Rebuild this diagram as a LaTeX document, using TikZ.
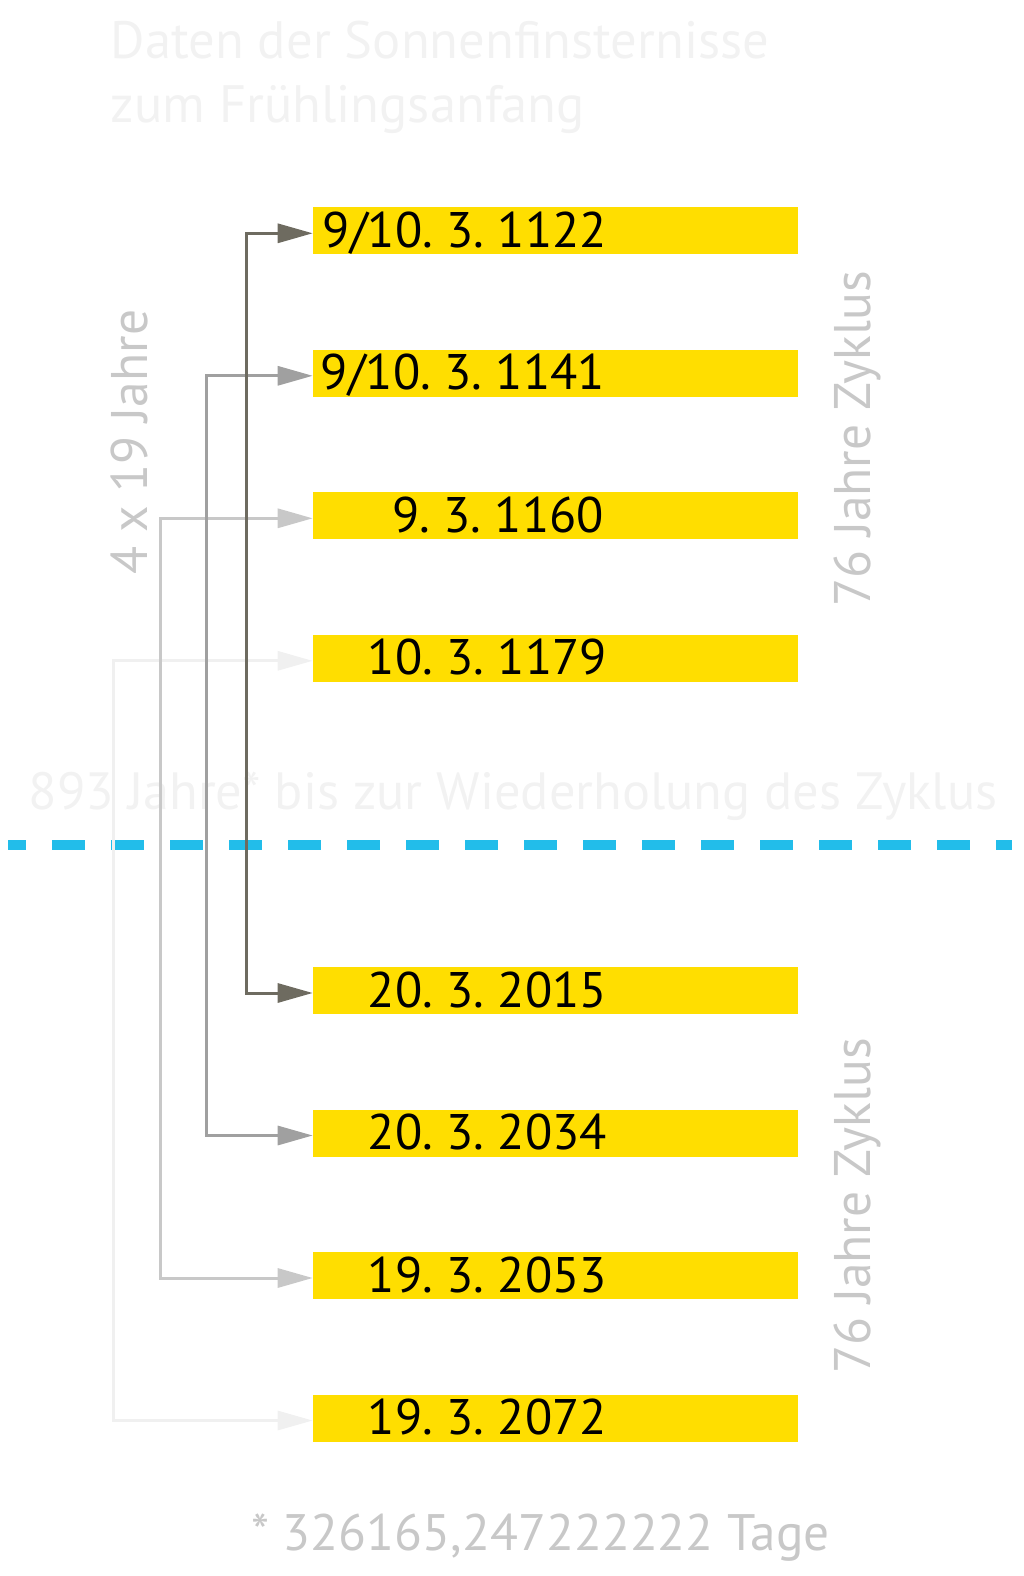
\documentclass[tikz,border=0pt]{standalone}
\usepackage{fontspec}
\setmainfont{PT Sans}
\usetikzlibrary{arrows.meta}
\definecolor{ylw}{RGB}{255,222,0}
\definecolor{ablue}{RGB}{34,189,234}
\definecolor{cA}{RGB}{110,107,96}
\definecolor{cB}{RGB}{160,160,160}
\definecolor{cC}{RGB}{200,200,200}
\definecolor{cD}{RGB}{240,240,240}
\definecolor{faint}{RGB}{242,242,242}
\definecolor{lgray}{RGB}{200,200,200}
\newcommand\datefont{\fontsize{50}{50}\selectfont}
\newcommand\datespace{\spaceskip=9pt\relax}
\begin{document}
\begin{tikzpicture}[x=1pt,y=-1pt,
  datebox/.style={fill=ylw, draw=none, minimum width=484.8pt, minimum height=47pt, inner sep=0pt, anchor=west},
  datetext/.style={anchor=base east, inner sep=0pt, text=black, font=\datefont, execute at begin node={\datespace}},
  bigtext/.style={inner sep=0pt, text=faint},
  sidetext/.style={inner sep=0pt, text=lgray, rotate=90, font=\fontsize{51.5}{51.5}\selectfont},
  conn/.style={line width=3pt, {Triangle[length=35pt,width=19pt]}-{Triangle[length=35pt,width=19pt]}},
  divider/.style={ablue, line width=10pt, dash pattern=on 33pt off 26pt, dash phase=15pt}
]
\useasboundingbox (0,0) rectangle (1024,1576);

% title
\node[bigtext, anchor=base west, font=\fontsize{52.6}{52.6}\selectfont] (title1) at (110.5,58.3) {Daten der Sonnenfinsternisse};
\node[bigtext, anchor=base west, font=\fontsize{52.6}{52.6}\selectfont] (title2) at (110.5,122.6) {zum Frühlingsanfang};

% middle caption
\node[bigtext, anchor=base, font=\fontsize{52.4}{52.4}\selectfont] (cycle) at (513,809) {893 Jahre* bis zur Wiederholung des Zyklus};

% side labels
\node[sidetext] (four) at (129,442) {4 x 19 Jahre};
\node[sidetext] (zyk1) at (857,439) {76 Jahre Zyklus};
\node[sidetext] (zyk2) at (857,1206) {76 Jahre Zyklus};

% footnote
\node[inner sep=0pt, text=lgray, anchor=base, font=\fontsize{51.3}{51.3}\selectfont] (tage) at (540.5,1550.5) {* 326165,247222222 Tage};

% boxes
\node[datebox] (b1) at (312.7,230.8) {};
\node[datebox] (b2) at (312.7,373.3) {};
\node[datebox] (b3) at (312.7,515.8) {};
\node[datebox] (b4) at (312.7,658.3) {};
\node[datebox] (b5) at (312.7,990.5) {};
\node[datebox] (b6) at (312.7,1133) {};
\node[datebox] (b7) at (312.7,1275.5) {};
\node[datebox] (b8) at (312.7,1418) {};

\node[datetext] (t1) at (607,247.3) {9/10. 3. 1122};
\node[datetext] (t2) at (605,389.8) {9/10. 3. 1141};
\node[datetext] (t3) at (604,532.3) {9. 3. 1160};
\node[datetext] (t4) at (607,674.8) {10. 3. 1179};
\node[datetext] (t5) at (607,1007) {20. 3. 2015};
\node[datetext] (t6) at (607,1149.5) {20. 3. 2034};
\node[datetext] (t7) at (607,1292) {19. 3. 2053};
\node[datetext] (t8) at (607,1434.5) {19. 3. 2072};

% divider
\coordinate (dl) at (8,844.5);
\coordinate (dr) at (1012,844.5);
\draw[divider] (dl) -- (dr);

% connectors
\draw[conn, cD] ([yshift=-2.5pt]b4.west) -- ++(-199.2,0) |- ([yshift=-2.5pt]b8.west);
\draw[conn, cC] ([yshift=-2.5pt]b3.west) -- ++(-152,0) |- ([yshift=-2.5pt]b7.west);
\draw[conn, cB] ([yshift=-2.5pt]b2.west) -- ++(-106.2,0) |- ([yshift=-2.5pt]b6.west);
\draw[conn, cA] ([yshift=-2.5pt]b1.west) -- ++(-66.7,0) |- ([yshift=-2.5pt]b5.west);
\end{tikzpicture}
\end{document}
